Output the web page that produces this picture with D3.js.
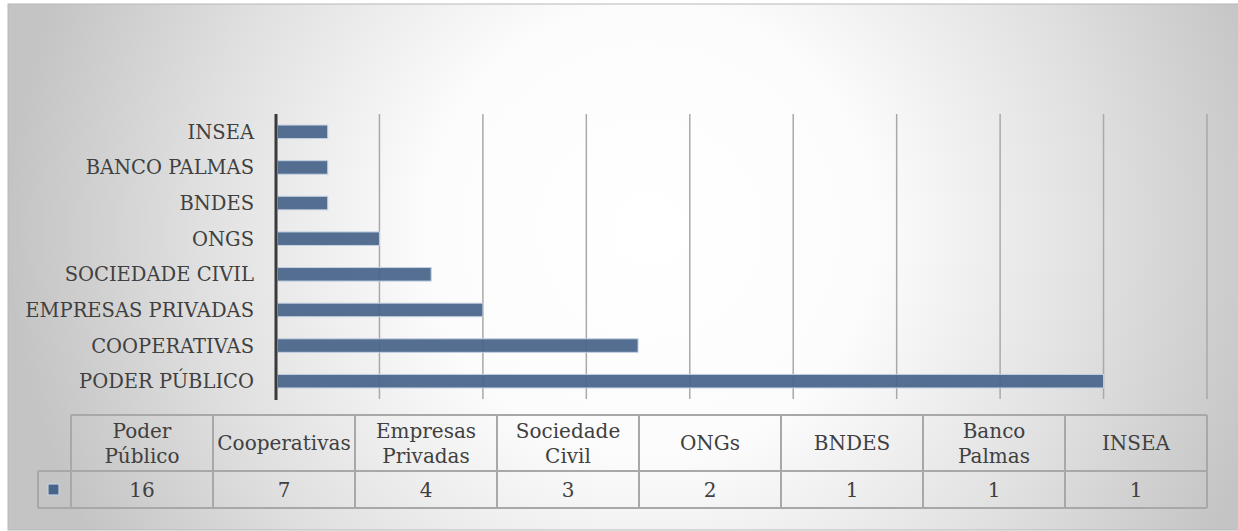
<!DOCTYPE html>
<html>
<head>
<meta charset="utf-8">
<script src="https://cdn.jsdelivr.net/npm/d3@7"></script>
<style>
  html, body { margin: 0; padding: 0; background: #ffffff; overflow: hidden; }
  svg { display: block; }
</style>
</head>
<body>
<div id="chart"></div>
<script>
// categorias do eixo (de cima para baixo) e valores
const axisLabels = ["INSEA", "BANCO PALMAS", "BNDES", "ONGS", "SOCIEDADE CIVIL", "EMPRESAS PRIVADAS", "COOPERATIVAS", "PODER PÚBLICO"];
const axisValues = [1, 1, 1, 2, 3, 4, 7, 16];

// tabela de dados (ordem da tabela)
const tableLabels = ["Poder\nPúblico", "Cooperativas", "Empresas\nPrivadas", "Sociedade\nCivil", "ONGs", "BNDES", "Banco\nPalmas", "INSEA"];
const tableValues = [16, 7, 4, 3, 2, 1, 1, 1];

const xTicks = [0, 2, 4, 6, 8, 10, 12, 14, 16, 18];

const W = 1238, H = 531;
const plot = { left: 276, right: 1207, top: 114, bottom: 399 };
const table = { left: 71, right: 1207, top: 415, mid: 471, bottom: 508, keyLeft: 38 };
const font = "'DejaVu Serif', 'Liberation Serif', serif";
const textColor = "#404040";
const barColor = "#48648b";

const svg = d3.select("#chart").append("svg")
    .attr("width", W)
    .attr("height", H);

// fundo com gradiente radial
const defs = svg.append("defs");
const grad = defs.append("radialGradient")
    .attr("id", "bg")
    .attr("gradientUnits", "userSpaceOnUse")
    .attr("cx", 650).attr("cy", 230).attr("r", 640);
grad.append("stop").attr("offset", "0").attr("stop-color", "#ffffff");
grad.append("stop").attr("offset", "0.35").attr("stop-color", "#fcfcfc");
grad.append("stop").attr("offset", "0.7").attr("stop-color", "#e0e0e0");
grad.append("stop").attr("offset", "1").attr("stop-color", "#c4c4c4");

svg.append("rect")
    .attr("x", 8).attr("y", 4)
    .attr("width", W).attr("height", 526)
    .attr("fill", "url(#bg)")
    .attr("stroke", "#b8b8b8")
    .attr("stroke-width", 1);

// escalas
const x = d3.scaleLinear().domain([0, 18]).range([plot.left, plot.right]);
const y = d3.scaleBand().domain(axisLabels).range([plot.top, plot.bottom])
    .paddingInner(0.62).paddingOuter(0.31);

// linhas de grade
svg.append("g")
    .selectAll("line")
    .data(xTicks.filter(d => d > 0))
    .join("line")
    .attr("x1", d => x(d)).attr("x2", d => x(d))
    .attr("y1", plot.top).attr("y2", plot.bottom)
    .attr("stroke", "#a9a9a9")
    .attr("stroke-width", 1.5);

// barras
svg.append("g")
    .selectAll("rect")
    .data(axisLabels)
    .join("rect")
    .attr("x", x(0) + 1.5)
    .attr("y", d => y(d))
    .attr("width", (d, i) => x(axisValues[i]) - x(0) - 1.5)
    .attr("height", y.bandwidth())
    .attr("fill", barColor)
    .attr("fill-opacity", 0.93)
    .attr("stroke", "#c4d1e2")
    .attr("stroke-width", 1);

// eixo vertical
const yAxis = svg.append("g")
    .attr("transform", `translate(${plot.left},0)`)
    .call(d3.axisLeft(y).tickSize(0).tickPadding(22));
yAxis.select(".domain")
    .attr("stroke", "#3a3a3a")
    .attr("stroke-width", 3)
    .attr("d", `M0,${plot.top}V${plot.bottom + 1}`);
yAxis.selectAll("text")
    .attr("fill", textColor)
    .style("font-family", font)
    .style("font-size", "19.5px")
    .attr("dy", "0.36em");

// tabela de dados
const col = d3.scaleBand().domain(tableLabels).range([table.left, table.right]);
const border = "#a8a8a8";
const tg = svg.append("g");

// linhas horizontais
tg.append("line")
    .attr("x1", table.left).attr("x2", table.right)
    .attr("y1", table.top).attr("y2", table.top)
    .attr("stroke", border).attr("stroke-width", 2);
tg.selectAll("line.h")
    .data([table.mid, table.bottom])
    .join("line")
    .attr("class", "h")
    .attr("x1", table.keyLeft).attr("x2", table.right)
    .attr("y1", d => d).attr("y2", d => d)
    .attr("stroke", border).attr("stroke-width", 2);

// linhas verticais
tg.selectAll("line.v")
    .data(tableLabels.concat(["end"]))
    .join("line")
    .attr("class", "v")
    .attr("x1", d => d === "end" ? table.right : col(d))
    .attr("x2", d => d === "end" ? table.right : col(d))
    .attr("y1", table.top).attr("y2", table.bottom)
    .attr("stroke", border).attr("stroke-width", 2);
tg.append("line")
    .attr("x1", table.keyLeft).attr("x2", table.keyLeft)
    .attr("y1", table.mid).attr("y2", table.bottom)
    .attr("stroke", border).attr("stroke-width", 2);

// chave da legenda
tg.append("rect")
    .attr("x", 48).attr("y", 484)
    .attr("width", 11).attr("height", 11)
    .attr("fill", barColor)
    .attr("stroke", "#c4d1e2")
    .attr("stroke-width", 1.2);

// cabeçalhos
const headerMid = (table.top + table.mid) / 2;
tg.selectAll("text.head")
    .data(tableLabels)
    .join("text")
    .attr("class", "head")
    .attr("x", d => col(d) + col.bandwidth() / 2)
    .attr("y", headerMid)
    .attr("text-anchor", "middle")
    .attr("fill", textColor)
    .style("font-family", font)
    .style("font-size", "20px")
    .each(function (d) {
        const lines = d.split("\n");
        const t = d3.select(this);
        lines.forEach((ln, i) => {
            t.append("tspan")
                .attr("x", col(d) + col.bandwidth() / 2)
                .attr("dy", i === 0 ? `${0.36 - (lines.length - 1) * 0.62}em` : "1.24em")
                .text(ln);
        });
    });

// valores
tg.selectAll("text.val")
    .data(tableValues)
    .join("text")
    .attr("class", "val")
    .attr("x", (d, i) => col(tableLabels[i]) + col.bandwidth() / 2)
    .attr("y", (table.mid + table.bottom) / 2)
    .attr("dy", "0.36em")
    .attr("text-anchor", "middle")
    .attr("fill", textColor)
    .style("font-family", font)
    .style("font-size", "20px")
    .text(d => d);
</script>
</body>
</html>
